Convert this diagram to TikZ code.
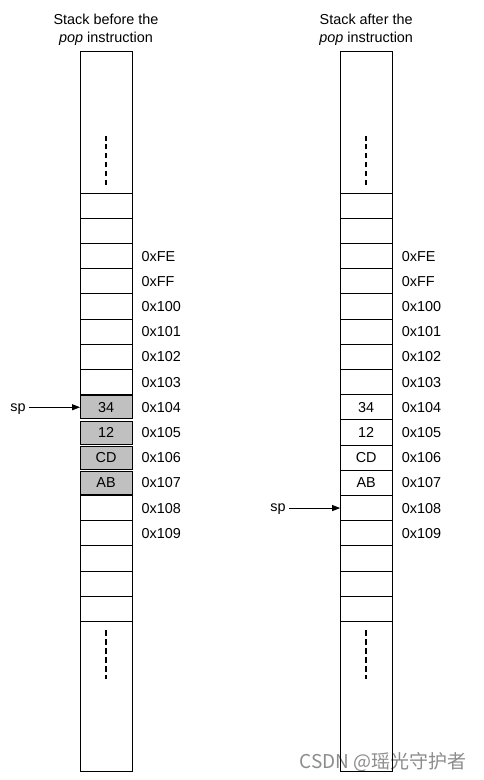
\documentclass[tikz,border=0pt]{standalone}
\usepackage{fontspec}
\setmainfont{Liberation Sans}
\newfontfamily\cjk{Noto Sans CJK SC}
\usetikzlibrary{matrix, positioning, arrows.meta}

\definecolor{cellgray}{RGB}{192,192,192}
\definecolor{markgray}{RGB}{140,140,140}

\tikzset{
cell/.style={draw, line width=0.9pt, minimum width=52pt, minimum height=25.2pt},
graycell/.style={fill=cellgray, minimum height=23pt},
addr/.style={text width=45pt, align=left, minimum height=26.1pt},
topbox/.style={minimum height=142pt},
botbox/.style={minimum height=150pt},
gapline/.style={line width=2pt, dash pattern=on 5.5pt off 3.4pt},
stack/.style={matrix of nodes, nodes in empty cells, inner sep=0pt, outer sep=0pt,
column sep=9.2pt, row sep=-0.9pt,
nodes={anchor=center},
column 1/.style={nodes={cell}},
column 2/.style={nodes={addr}}}
}

\begin{document}
\begin{tikzpicture}[font=\fontsize{14.4}{18}\selectfont]
\useasboundingbox (0,0) rectangle (483pt,-780pt);

\node (csdn) [anchor=base east, inner sep=0pt, text=markgray, font=\cjk\fontsize{19}{19}\selectfont]
at (467pt,-768pt) {CSDN @瑶光守护者};

\matrix (before) [stack, matrix anchor=north west] at (79.6pt,-50.6pt) {
|[topbox]| & \\
& \\
& \\
& 0xFE \\
& 0xFF \\
& 0x100 \\
& 0x101 \\
& 0x102 \\
& 0x103 \\
|[graycell]| 34 & 0x104 \\
|[graycell]| 12 & 0x105 \\
|[graycell]| CD & 0x106 \\
|[graycell]| AB & 0x107 \\
& 0x108 \\
& 0x109 \\
& \\
& \\
& \\
|[botbox]| & \\
};

\matrix (after) [stack, right=153pt of before] {
|[topbox]| & \\
& \\
& \\
& 0xFE \\
& 0xFF \\
& 0x100 \\
& 0x101 \\
& 0x102 \\
& 0x103 \\
34 & 0x104 \\
12 & 0x105 \\
CD & 0x106 \\
AB & 0x107 \\
& 0x108 \\
& 0x109 \\
& \\
& \\
& \\
|[botbox]| & \\
};

\node (titlebefore) [above=2pt of before-1-1, align=center] {Stack before the\\\textit{pop} instruction};
\node (titleafter) [above=2pt of after-1-1, align=center] {Stack after the\\\textit{pop} instruction};

% stack pointer
\node (spbefore) [left=51pt of before-10-1, text depth=0pt] {sp};
\draw[-{Triangle[length=8pt,width=6pt]}, line width=0.8pt] (spbefore) -- (before-10-1);
\node (spafter) [left=51pt of after-14-1, text depth=0pt] {sp};
\draw[-{Triangle[length=8pt,width=6pt]}, line width=0.8pt] (spafter) -- (after-14-1);

\foreach \s in {before, after} {
\draw[gapline] ([yshift=8pt]\s-1-1.south) -- ++(0,49pt);
\draw[gapline] ([yshift=-9pt]\s-19-1.north) -- ++(0,-49pt);
};

\end{tikzpicture}
\end{document}
